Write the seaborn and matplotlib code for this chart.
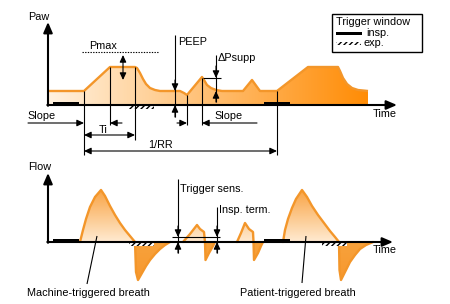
import numpy as np
import matplotlib
matplotlib.use("Agg")
import matplotlib.pyplot as plt
import seaborn as sns
from matplotlib.patches import Polygon, Rectangle
from matplotlib.colors import to_rgb

sns.set_style("white")
plt.rcParams['font.family'] = ['Liberation Sans', 'DejaVu Sans']
plt.rcParams['hatch.linewidth'] = 1.0

# ---------------- data (diagram units: x = time position, values above baseline) ----------
PAW_BASE = 105
paw_t = [48, 84, 110, 135, 137, 140, 143, 146, 150, 155, 160, 180, 184, 187, 202, 204, 207,
         211, 216, 222, 243, 252, 260, 277, 308, 338, 340, 343, 347, 352, 358, 368]
paw_v = [14, 14, 38, 38, 37, 32, 26, 21, 17, 15, 14, 14, 12, 10, 28, 25, 20,
         17, 15, 14, 14, 25, 14, 14, 38, 38, 34, 27, 21, 17, 15, 14]

FLOW_BASE = 242
machine_t = [80, 83, 86, 90, 95, 101, 105, 110, 115, 120, 125, 130, 135, 136, 138, 142, 146,
             150, 155, 160, 165, 170]
machine_f = [0, 12, 23, 35, 45, 52, 46, 36, 27, 19, 12, 6, 0, -30, -38, -31, -24,
             -18, -12, -7, -3, 0]
trig1_t = [183, 190, 197, 200, 204, 205, 205.5, 209, 213, 215]
trig1_f = [0, 8, 17, 13, 10, 0, -18, -11, -4, 0]
trig2_t = [237, 241, 245, 249, 253, 253.5, 254, 258, 261, 263]
trig2_f = [0, 9, 19, 13, 10, 0, -18, -11, -4, 0]
patient_t = [283, 285, 288, 292, 296, 302, 307, 312, 318, 324, 330, 335, 339, 339.5, 341,
             345, 350, 355, 360, 366, 373]
patient_f = [0, 12, 23, 34, 43, 52, 45, 36, 27, 19, 11, 5, 0, -28, -38,
             -30, -20, -13, -7, -3, 0]

insp_windows = [(53, 79), (264, 290)]
exp_windows_top = [(129, 154)]
exp_windows_bottom = [(129, 154), (322, 347)]

EDGE = '#F3962A'
FS = 7.8

fig = plt.figure(figsize=(4.5, 3.04), dpi=100)
ax = fig.add_axes([0, 0, 1, 1])
ax.set_xlim(0, 450)
ax.set_ylim(304, 0)
ax.axis('off')


def arrow(x0, y0, x1, y1, lw=0.8, ms=7, style="-|>,head_length=0.6,head_width=0.28"):
    ax.annotate("", xy=(x1, y1), xytext=(x0, y0),
                arrowprops=dict(arrowstyle=style, mutation_scale=ms, lw=lw, color='black',
                                shrinkA=0, shrinkB=0), zorder=6)


def dbl(x0, y0, x1, y1):
    arrow(x0, y0, x1, y1, style="<|-|>,head_length=0.6,head_width=0.28")


def line(xs, ys, lw=0.8, **kw):
    ax.plot(xs, ys, color='black', lw=lw, solid_capstyle='butt', zorder=5, **kw)


def txt(x, y, s, ha='left', **kw):
    ax.text(x, y, s, ha=ha, va='center', fontsize=FS, color='black', zorder=7, **kw)


# ---------------- pressure waveform ----------------
paw_y = [PAW_BASE - v for v in paw_v]
poly = Polygon(list(zip(paw_t, paw_y)) + [(paw_t[-1], PAW_BASE), (paw_t[0], PAW_BASE)],
               closed=True, facecolor='none', edgecolor='none')
ax.add_patch(poly)
c0, c1 = np.array(to_rgb('#FFF2E0')), np.array(to_rgb('#FF8C05'))
g = np.linspace(0, 1, 256)[None, :, None]
img = c0 + (c1 - c0) * g
im = ax.imshow(img, extent=(paw_t[0], paw_t[-1], PAW_BASE, 60), aspect='auto', zorder=1)
im.set_clip_path(poly)
sns.lineplot(x=paw_t, y=paw_y, sort=False, estimator=None, color=EDGE, lw=1.7, ax=ax,
             zorder=3)
ax.lines[-1].set_solid_joinstyle('round')
ax.lines[-1].set_solid_capstyle('butt')

# ---------------- flow waveform ----------------
rows = np.linspace(180, 290, 200)
cols = []
pos0, pos1 = np.array(to_rgb('#FFEBD2')), np.array(to_rgb('#F9A445'))
neg0, neg1 = np.array(to_rgb('#F8A23C')), np.array(to_rgb('#F7982E'))
for r in rows:
    d = FLOW_BASE - r
    if d >= 0:
        cols.append(pos0 + (pos1 - pos0) * min(d / 52, 1))
    else:
        cols.append(neg0 + (neg1 - neg0) * min(-d / 38, 1))
fimg = np.array(cols)[:, None, :]
for ts, fs in [(machine_t, machine_f), (trig1_t, trig1_f), (trig2_t, trig2_f),
               (patient_t, patient_f)]:
    ys = [FLOW_BASE - f for f in fs]
    p = Polygon(list(zip(ts, ys)), closed=True, facecolor='none', edgecolor='none')
    ax.add_patch(p)
    im2 = ax.imshow(fimg, extent=(ts[0], ts[-1], 290, 180), aspect='auto', zorder=1)
    im2.set_clip_path(p)
    sns.lineplot(x=ts, y=ys, sort=False, estimator=None, color=EDGE, lw=1.7, ax=ax, zorder=3)
    ax.lines[-1].set_solid_joinstyle('round')

ax.set_xlim(0, 450)
ax.set_ylim(304, 0)

# ---------------- axes ----------------
for base, top, lab, ly in [(PAW_BASE, 22, 'Paw', 17), (FLOW_BASE, 173, 'Flow', 167)]:
    arrow(48, base + 0.8, 48, top, lw=1.5, ms=9, style="-|>,head_length=0.7,head_width=0.3")
    arrow(47.3, base, 397 if base == PAW_BASE else 393, base, lw=1.5, ms=9,
          style="-|>,head_length=0.7,head_width=0.3")
    txt(28, ly, lab)
txt(373, 114, 'Time')
txt(373, 250, 'Time')

# trigger windows
for base, exps in [(PAW_BASE, exp_windows_top), (FLOW_BASE, exp_windows_bottom)]:
    for a, b in insp_windows:
        ax.add_patch(Rectangle((a, base - 3.2), b - a, 3.2, facecolor='black',
                               edgecolor='none', zorder=4))
    for a, b in exps:
        ax.add_patch(Rectangle((a, base + 0.6), b - a, 3.0, facecolor='white',
                               edgecolor='black', hatch='//////', lw=0, zorder=4))

# ---------------- pressure annotations ----------------
line([84, 84], [91, 155])
line([110, 110], [67, 125])
line([135, 135], [67, 140])
line([187, 187], [95, 125])
line([202, 202], [78, 125])
line([277, 277], [91, 155])

ax.plot([82, 158], [52, 52], color='black', lw=0.8, ls=(0, (1.2, 1.2)), zorder=5)
txt(89, 46, 'Pmax')
dbl(123, 55, 123, 80)

line([175, 175], [35, 117])
arrow(175, 80, 175, 91)
arrow(175, 117, 175, 105)
txt(178, 42, 'PEEP')

line([216, 216], [55, 102])
line([203, 221], [78, 78])
arrow(216, 66, 216, 78)
arrow(216, 102, 216, 91)
txt(218, 58, 'ΔPsupp')

arrow(28, 123, 84, 123)
arrow(122, 123, 110, 123)
txt(27, 116, 'Slope')
dbl(84, 135, 135, 135)
txt(103, 130, 'Ti', ha='center')
dbl(84, 151, 277, 151)
txt(160, 145, '1/RR', ha='center')
arrow(177, 123, 187, 123)
arrow(257, 123, 202, 123)
txt(214, 116, 'Slope')

# ---------------- flow annotations ----------------
line([178, 178], [179, 253])
line([172, 220], [237, 237])
arrow(178, 226, 178, 237)
arrow(178, 253, 178, 242)
txt(180, 189, 'Trigger sens.')
line([217, 217], [207, 253])
arrow(217, 226, 217, 237)
arrow(217, 253, 217, 242)
txt(219, 210, 'Insp. term.')

line([87, 97], [284, 236])
txt(88, 293, 'Machine-triggered breath', ha='center')
line([302, 306], [283, 236])
txt(298, 293, 'Patient-triggered breath', ha='center')

# ---------------- legend box ----------------
ax.add_patch(Rectangle((332, 14), 90, 38, facecolor='white', edgecolor='black', lw=1.0,
                       zorder=6))
txt(336, 22, 'Trigger window')
ax.add_patch(Rectangle((336, 31.5), 26, 3.2, facecolor='black', edgecolor='none', zorder=7))
txt(366, 33, 'insp.')
ax.add_patch(Rectangle((336, 41.5), 25, 3.0, facecolor='white', edgecolor='black',
                       hatch='//////', lw=0, zorder=7))
txt(364, 43, 'exp.')

fig.savefig('out.png', dpi=100)
